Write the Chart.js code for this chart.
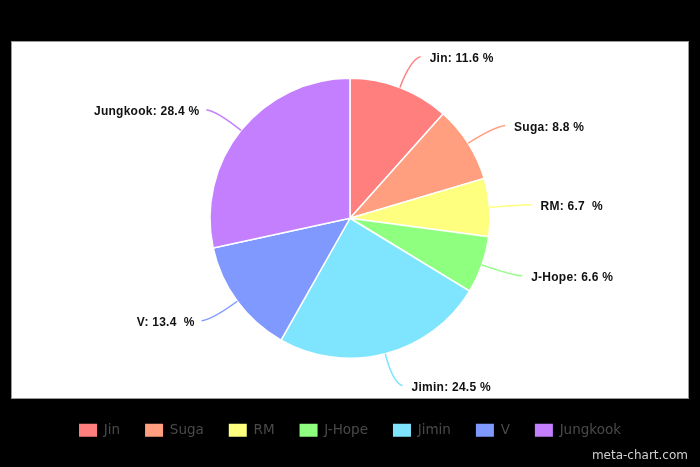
<!DOCTYPE html>
<html>
<head>
<meta charset="utf-8">
<script src="https://cdn.jsdelivr.net/npm/chart.js@4.4.0/dist/chart.umd.min.js"></script>
<style>
  html, body { margin: 0; padding: 0; background: #000; }
  #wrap { width: 700px; height: 467px; }
</style>
</head>
<body>
<div id="wrap"><canvas id="c" width="700" height="467"></canvas></div>
<script>
const categories = ["Jin", "Suga", "RM", "J-Hope", "Jimin", "V", "Jungkook"];
const values = [11.6, 8.8, 6.7, 6.6, 24.5, 13.4, 28.4];
const labelTexts = ["Jin: 11.6 %", "Suga: 8.8 %", "RM: 6.7  %", "J-Hope: 6.6 %", "Jimin: 24.5 %", "V: 13.4  %", "Jungkook: 28.4 %"];
const colors = ["#ff7f7f", "#ff9f7f", "#ffff7f", "#8fff7f", "#7fe5ff", "#7f99ff", "#c47fff"];

const backgroundPlugin = {
  id: 'bg',
  beforeDraw(chart) {
    const ctx = chart.ctx;
    ctx.save();
    ctx.fillStyle = '#000';
    ctx.fillRect(0, 0, chart.width, chart.height);
    ctx.fillStyle = '#fff';
    ctx.fillRect(12, 42, 676, 356);
    ctx.strokeStyle = '#999';
    ctx.lineWidth = 1;
    ctx.strokeRect(11.5, 41.5, 677, 357);
    ctx.fillStyle = '#d0d0d0';
    ctx.font = '12px "DejaVu Sans"';
    ctx.textAlign = 'right';
    ctx.textBaseline = 'middle';
    ctx.fillText('meta-chart.com', 688, 456);
    ctx.restore();
  }
};

const labelPlugin = {
  id: 'sliceLabels',
  afterDatasetsDraw(chart) {
    const ctx = chart.ctx;
    const meta = chart.getDatasetMeta(0);
    ctx.save();
    meta.data.forEach((arc, i) => {
      const p = arc.getProps(['x', 'y', 'startAngle', 'endAngle', 'outerRadius'], true);
      const mid = (p.startAngle + p.endAngle) / 2;
      const cos = Math.cos(mid), sin = Math.sin(mid);
      const r = p.outerRadius;
      const right = cos >= 0;
      const sign = right ? 1 : -1;
      const x0 = p.x + r * cos, y0 = p.y + r * sin;
      const xc = p.x + (r + 30) * cos, yc = p.y + (r + 30) * sin;
      const x2 = p.x + (r + 33) * cos + sign * 9, y2 = p.y + (r + 33) * sin;
      ctx.strokeStyle = colors[i];
      ctx.lineWidth = 1.5;
      ctx.beginPath();
      ctx.moveTo(x0, y0);
      ctx.quadraticCurveTo(xc, yc, x2, y2);
      ctx.stroke();
      ctx.fillStyle = '#111';
      ctx.font = 'bold 12px "Liberation Sans", Arial, sans-serif';
      try { ctx.letterSpacing = '0.25px'; } catch (e) {}
      ctx.textBaseline = 'middle';
      ctx.textAlign = right ? 'left' : 'right';
      ctx.fillText(labelTexts[i], x2 + (right ? 9 : -7), y2 + 2);
    });
    ctx.restore();
  }
};

new Chart(document.getElementById('c'), {
  type: 'pie',
  data: {
    labels: categories,
    datasets: [{
      data: values,
      backgroundColor: colors,
      borderColor: '#ffffff',
      borderWidth: 1.5
    }]
  },
  options: {
    responsive: false,
    animation: false,
    events: [],
    radius: 140,
    layout: { padding: { top: 38, bottom: 20, left: 0, right: 0 } },
    plugins: {
      tooltip: { enabled: false },
      legend: {
        position: 'bottom',
        labels: {
          boxWidth: 18,
          boxHeight: 13,
          padding: 25,
          color: '#4a4a4a',
          font: { family: '"DejaVu Sans"', size: 13.5 },
          generateLabels(chart) {
            const items = Chart.overrides.pie.plugins.legend.labels.generateLabels(chart);
            items.forEach(it => { it.strokeStyle = it.fillStyle; it.lineWidth = 0; });
            return items;
          }
        }
      }
    }
  },
  plugins: [backgroundPlugin, labelPlugin]
});
</script>
</body>
</html>
